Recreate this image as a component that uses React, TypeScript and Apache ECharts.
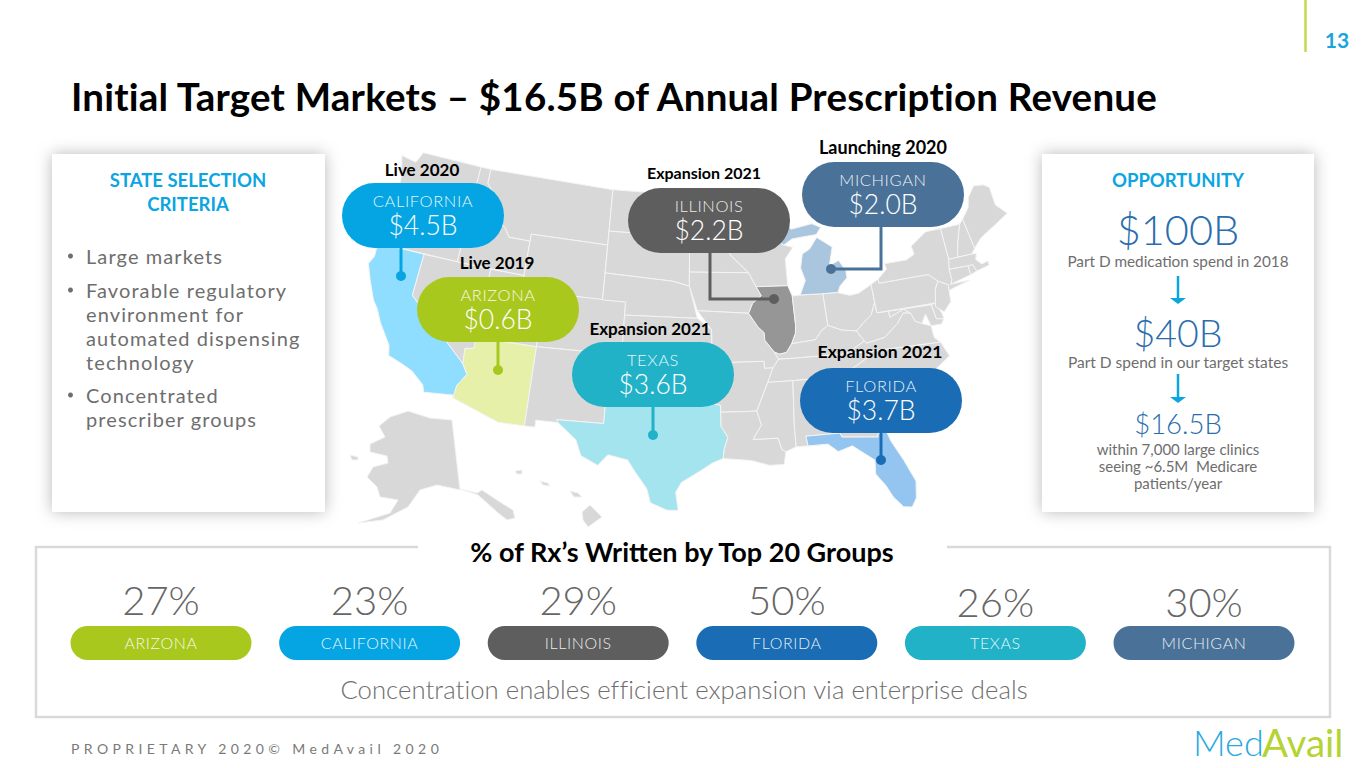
import React, { useEffect, useRef } from "react";
import * as echarts from "echarts";

// ---------- data ----------
const rowStates = ["ARIZONA", "CALIFORNIA", "ILLINOIS", "FLORIDA", "TEXAS", "MICHIGAN"];
const rowShare = [27, 23, 29, 50, 26, 30];
const calloutStates = ["CALIFORNIA", "ARIZONA", "ILLINOIS", "MICHIGAN", "TEXAS", "FLORIDA"];
const calloutRevenue = [4.5, 0.6, 2.2, 2.0, 3.6, 3.7];
const calloutStage = ["Live 2020", "Live 2019", "Expansion 2021", "Launching 2020", "Expansion 2021", "Expansion 2021"];
const highlightStates = ["California", "Arizona", "Illinois", "Michigan", "Texas", "Florida"];
const funnelValues = ["$100B", "$40B", "$16.5B"];
const funnelNotes = ["Part D medication spend in 2018", "Part D spend in our target states"];
const clinicNotes = ["within 7,000 large clinics", "seeing ~6.5M  Medicare", "patients/year"];
const criteria = [["Large markets"], ["Favorable regulatory", "environment for", "automated dispensing", "technology"], ["Concentrated", "prescriber groups"]];

// ---------- state outlines, west longitude,latitude ----------
const outlines: Record<string, string[]> = {
  Washington: ["124.7,48.4 123.2,48.2 122.8,49 117,49 117,46 119,45.9 121.2,45.6 122.8,45.7 123.5,46.2 124,46.3 124.1,47"],
  Oregon: ["124,46.3 123.5,46.2 122.8,45.7 121.2,45.6 119,45.9 117,46 116.9,45 117,44.2 117,42 124.2,42 124.5,43 124,44.5"],
  California: ["124.2,42 120,42 120,39 114.6,35 114.1,34.3 114.7,33.4 114.7,32.7 117.1,32.5 117.3,33 118.4,33.8 119.2,34.1 120.5,34.5 120.7,35.2 121.9,36.6 122.5,37.5 123,38 123.8,39.3 124.4,40.4 124.1,41"],
  Nevada: ["120,42 114,42 114,36.2 114.7,36.1 114.6,35 120,39"],
  Idaho: ["117,49 116,49 116,48 114.5,46.6 114.3,45.5 113.5,45.1 113,44.5 111.05,44.5 111.05,42 117,42 117,44.2 116.9,45 117,46"],
  Montana: ["116,49 104,49 104,45 111.05,45 111.05,44.5 113,44.5 113.5,45.1 114.3,45.5 114.5,46.6 116,48"],
  Wyoming: ["111.05,45 104,45 104,41 111.05,41"],
  Utah: ["114,42 111.05,42 111.05,41 109,41 109,37 114,37"],
  Arizona: ["114,37 109,37 109,31.3 111,31.3 114.8,32.5 114.7,33.4 114.1,34.3 114.6,35 114.7,36.1 114,36.2"],
  Colorado: ["109,41 102,41 102,37 109,37"],
  "New Mexico": ["109,37 103,37 103,32 106.6,32 106.5,31.8 108.2,31.8 108.2,31.3 109,31.3"],
  "North Dakota": ["104,49 97.2,49 96.6,46 104,46"],
  "South Dakota": ["104,46 96.6,46 96.5,45.3 96.5,43.5 96.5,42.5 98,42.8 104,43"],
  Nebraska: ["104,43 98,42.8 96.5,42.5 95.8,40 102,40 102,41 104,41"],
  Kansas: ["102,40 95.8,40 94.6,39.1 94.6,37 102,37"],
  Oklahoma: ["103,37 94.6,37 94.4,35.4 94.5,33.6 96.5,33.8 98,34 100,34.5 100,36.5 103,36.5"],
  Texas: ["103,36.5 100,36.5 100,34.5 98,34 96.5,33.8 94.5,33.6 94,33.5 94,33 94,32 93.5,31.2 93.8,30.4 93.9,29.7 94.7,29.4 95.5,28.9 97,28 97.4,27.3 97.2,26 98,26 99.2,26.5 99.5,27.5 100.5,28.8 101,29.5 102.5,29.8 103.2,29 104.5,29.6 105,30.7 106.5,31.8 106.6,32 103,32"],
  Minnesota: ["97.2,49 95.2,49 95.2,49.4 94.7,48.8 92.5,48.5 89.5,48 92,46.7 92.3,46.1 92.8,45.5 92.8,44.8 91.2,43.5 96.5,43.5 96.5,45.3 96.6,46"],
  Iowa: ["96.5,43.5 91.2,43.5 90.6,42.5 90.2,41.8 91,41.2 91.4,40.4 95.8,40.6 96.5,42.5"],
  Missouri: ["95.8,40.6 91.4,40.4 90.7,39.3 90.2,38.8 90.2,38.2 89.5,37.2 89.2,36.6 89.7,36 90.4,36 90.4,36.5 94.6,36.5 94.6,39.1"],
  Arkansas: ["94.6,36.5 90.4,36.5 90.4,36 89.7,36 90.2,35 91.2,33 94,33 94,33.5 94.5,33.6 94.4,35.4"],
  Louisiana: ["94,33 91.2,33 90.9,32 91.6,31 89.7,31 89.5,30.2 89.2,30 89.4,29.1 90.5,29.1 91.8,29.5 93.9,29.7 93.8,30.4 93.5,31.2 94,32"],
  Wisconsin: ["92,46.7 90.5,46.6 89,46 87.8,45.4 87,45.2 87.8,44.4 87.8,42.5 90.6,42.5 91.2,43.5 92.8,44.8 92.8,45.5 92.3,46.1"],
  Illinois: ["90.6,42.5 87.8,42.5 87.5,41.7 87.5,39.3 87.6,38.6 88,37.8 88.5,37.1 89.1,37 89.5,37.2 90.2,38.2 90.2,38.8 90.7,39.3 91.4,40.4 91,41.2 90.2,41.8"],
  Indiana: ["87.5,41.7 86.8,41.76 84.8,41.76 84.8,39.1 85.4,38.7 86,38 87,37.9 88,37.8 87.6,38.6 87.5,39.3"],
  Michigan: [
    "86.8,41.76 84.8,41.76 83.5,41.73 83.2,42.2 82.5,42.7 82.5,43.2 83,44 83.9,43.7 83.4,45 84.7,45.8 85.5,45 86.2,44.7 86.5,43.7 86.2,42.8",
    "90.5,46.6 89,46 87.8,45.4 87,45.8 86,45.9 84.7,46 84.2,46.5 85,46.8 87,46.5 88,47.4 88.5,47",
  ],
  Ohio: ["84.8,41.76 83.5,41.73 82.5,41.4 81.7,41.5 80.5,42 80.5,40.6 81,39.6 81.8,39 82.5,38.4 83.7,38.6 84.8,39.1"],
  Kentucky: ["89.2,36.6 89.5,37.2 89.1,37 88.5,37.1 88,37.8 87,37.9 86,38 85.4,38.7 84.8,39.1 83.7,38.6 82.5,38.4 82,37.5 83.7,36.6 88,36.6"],
  Tennessee: ["90.2,35 89.7,36 89.2,36.6 88,36.6 83.7,36.6 81.7,36.6 82,36.1 84.3,35 85.6,35 88.2,35"],
  Mississippi: ["91.2,33 90.2,35 88.2,35 88.4,31.9 88.4,30.3 89.2,30 89.5,30.2 89.7,31 91.6,31 90.9,32"],
  Alabama: ["88.2,35 85.6,35 85.2,32.9 85,31 87.6,31 87.5,30.3 88.4,30.3 88.4,31.9"],
  Georgia: ["85.6,35 84.3,35 83.1,35 83,34.6 81,32.2 81.1,31.7 81.5,30.7 82.2,30.6 82.2,30.4 84.9,30.7 85,31 85.2,32.9"],
  Florida: ["87.6,31 85,31 84.9,30.7 82.2,30.4 82.2,30.6 81.5,30.7 81.3,30 80.6,28.5 80,26.9 80.2,25.7 80.6,25.1 81.2,25.2 81.8,26 82.2,26.9 82.8,27.8 82.7,28.8 83.7,29.6 84.2,30 85.3,29.7 86,30.3 87.5,30.3"],
  "South Carolina": ["83.1,35 82,35.2 81,35.1 80.8,34.8 79.7,34.8 78.6,33.9 79.2,33.2 80.5,32.4 81,32.2 83,34.6"],
  "North Carolina": ["84.3,35 82,36.1 81.7,36.6 75.9,36.55 75.5,35.3 76.5,34.7 77.9,33.9 78.6,33.9 79.7,34.8 80.8,34.8 81,35.1 82,35.2 83.1,35"],
  Virginia: ["83.7,36.6 81.7,36.6 75.9,36.55 76.3,37 76.3,38 77,38.3 77.5,38.6 77.7,39.3 78.3,39.4 79,38.6 80.3,37.6 81.9,37.3 82,37.5"],
  "West Virginia": ["82.5,38.4 82,37.5 81.9,37.3 80.3,37.6 79,38.6 78.3,39.4 77.7,39.3 78.2,39.7 79.5,39.2 79.5,39.7 80.5,39.7 80.5,40.6 81,39.6 81.8,39"],
  Pennsylvania: ["80.5,42 79.8,42.3 79.8,42 75.4,42 74.7,41.4 75.1,40.9 75.4,39.8 80.5,39.7"],
  Maryland: ["79.5,39.7 75.8,39.7 75.7,38.5 75.1,38.4 75.4,38 76.3,38 76.5,39 77,38.3 77.5,38.6 77.7,39.3 78.2,39.7 79.5,39.2"],
  Delaware: ["75.8,39.7 75.4,39.8 75.1,38.8 75.1,38.4 75.7,38.5"],
  "New Jersey": ["75.4,39.8 75.1,40.9 74.7,41.4 73.9,41 74,40.4 74.1,39.7 74.9,38.95 75.5,39.5"],
  "New York": ["79.8,42.3 78.9,42.9 79,43.3 77,43.3 76.2,43.6 76.3,44.2 74.7,45 73.3,45 73.3,44 73.3,42.75 73.5,42.05 73.5,41.3 73.7,41 72,41 74,40.6 73.9,41 74.7,41.4 75.4,42 79.8,42"],
  Vermont: ["73.3,45 71.5,45 72.1,43.8 72.5,42.75 73.3,42.75 73.3,44"],
  "New Hampshire": ["71.5,45 71.1,45.3 70.8,43.1 71.2,42.75 72.5,42.75 72.1,43.8"],
  Maine: ["71.1,45.3 70.3,46 70,46.7 69.2,47.4 68.3,47.3 67.8,47 67.8,45.7 67,44.9 68.5,44.3 70,43.7 70.8,43.1"],
  Massachusetts: ["73.5,42.05 73.3,42.75 71.2,42.75 70.8,42.7 71,42.3 70.6,41.9 70,42 70,41.7 71.2,41.5 71.4,42 71.8,42"],
  Connecticut: ["73.5,42.05 71.8,42 71.8,41.35 73.7,41 73.5,41.3"],
  "Rhode Island": ["71.8,42 71.4,42 71.2,41.5 71.8,41.35"],
};
// insets are traced in page pixels
const insets: Record<string, string[]> = {
  Alaska: [
    "408,411 390,417 379,426 385,437 370,444 370,452 387,456 388,463 373,467 367,477 377,487 380,497 398,500 390,513 358,523 383,520 408,507 420,490 437,485 460,490 452,420 430,418",
    "460,489 477,493 482,490 497,500 513,510 515,518 507,520 497,512 487,503 478,495",
    "350,455 358,457 358,460 352,460",
  ],
  Hawaii: [
    "582,512 590,505 602,517 588,527 583,520",
    "570,491 578,493 582,497 574,497",
    "540,481 548,483 550,486 543,485",
    "515,471 522,470 522,474 517,474",
  ],
};

const parseRing = (s: string, inset: boolean) => {
  const ring = s.split(" ").map((pair) => {
    const [a, b] = pair.split(",").map(Number);
    return inset ? [a + 10000, b] : [-a, b];
  });
  ring.push(ring[0]);
  return ring;
};
const feature = (name: string, rings: string[], inset: boolean) => ({
  type: "Feature",
  properties: { name },
  geometry: { type: "MultiPolygon", coordinates: rings.map((r) => [parseRing(r, inset)]) },
});
const usa = {
  type: "FeatureCollection",
  features: [
    ...Object.keys(outlines).map((k) => feature(k, outlines[k], false)),
    ...Object.keys(insets).map((k) => feature(k, insets[k], true)),
  ],
};

// Albers conic, fitted to the page; lon >= 5000 means page pixels + 10000
const rad = Math.PI / 180;
const n = (Math.sin(29.5 * rad) + Math.sin(45.5 * rad)) / 2;
const C = Math.cos(29.5 * rad) ** 2 + 2 * n * Math.sin(29.5 * rad);
const rho = (lat: number) => Math.sqrt(C - 2 * n * Math.sin(lat * rad)) / n;
const rho0 = rho(37.5);
const clamp01 = (v: number) => Math.max(0, Math.min(1, v));
const project = (p: number[]) => {
  if (p[0] >= 5000) return [p[0] - 10000, p[1]];
  const t = n * (p[0] + 96) * rad;
  const r = rho(p[1]);
  const x = 695 + 886 * r * Math.sin(t);
  const y = 349 - 802 * (rho0 - r * Math.cos(t));
  // the reference's north-east sits a little lower than a pure conic
  const sag = clamp01((360 - y) / 80) * clamp01((x - 450) / 370) * 12;
  return [x, y + sag];
};
const unproject = (p: number[]) => [p[0] + 10000, p[1]];

// ---------- look ----------
const FONT = "Lato";
const BLUE = "#0BA5E2";
const GREY = "#6E6E6E";
const stateColor: Record<string, string> = {
  ARIZONA: "#A9C81E", CALIFORNIA: "#05A5E3", ILLINOIS: "#5E5E5E",
  FLORIDA: "#1A6DB4", TEXAS: "#22B2C8", MICHIGAN: "#4A7299",
};
const tint = ["#8FDEFF", "#E6F0A9", "#969696", "#AAC6DF", "#A3E4EF", "#94C5F0"];
const box = [
  { x: 342, y: 183, dots: [[401, 247], [401, 276]], stageX: 422, stageY: 170, stageSize: 17 },
  { x: 417, y: 277, dots: [[498, 342], [498, 370]], stageX: 497, stageY: 263, stageSize: 17 },
  { x: 628, y: 188, dots: [[710, 253], [710, 299], [774, 299]], stageX: 704, stageY: 173, stageSize: 16 },
  { x: 802, y: 162, dots: [[881, 227], [881, 269], [831, 269]], stageX: 883, stageY: 148, stageSize: 18 },
  { x: 572, y: 342, dots: [[653, 407], [653, 435]], stageX: 650, stageY: 329, stageSize: 17 },
  { x: 800, y: 368, dots: [[881, 432], [881, 460]], stageX: 880, stageY: 352, stageSize: 17.5 },
];
// letter-spacing applied to the drawn svg text
const spacing: Record<string, string> = {
  "PROPRIETARY 2020© MedAvail 2020": "4.4px",
  "Initial Target Markets – $16.5B of Annual Prescription Revenue": "0.21px",
  "Concentration enables efficient expansion via enterprise deals": "0.05px",
  CALIFORNIA: "0.6px", ARIZONA: "0.6px", ILLINOIS: "0.6px", MICHIGAN: "0.6px", TEXAS: "0.6px", FLORIDA: "0.6px",
};
criteria.forEach((lines) => lines.forEach((t) => { spacing[t] = "1.1px"; }));

const T = (text: string, x: number, y: number, size: number, fill: string, weight: any = 400, align = "center") => ({
  type: "text", z: 20, silent: true,
  style: { text, x, y: y - 1, fill, textAlign: align, textVerticalAlign: "middle", fontFamily: FONT, fontSize: size, fontWeight: weight },
});
const card = (x: number, w: number) => ({
  type: "rect", z: 5, shape: { x, y: 154, width: w, height: 358 },
  style: { fill: "#fff", shadowBlur: 16, shadowColor: "rgba(0,0,0,0.28)" },
});
const arrow = (x: number, y0: number, y1: number) => [
  { type: "line", z: 20, shape: { x1: x, y1: y0, x2: x, y2: y1 - 3 }, style: { stroke: BLUE, lineWidth: 2.5 } },
  { type: "polygon", z: 20, shape: { points: [[x - 8, y1 - 6], [x + 8, y1 - 6], [x, y1]] }, style: { fill: BLUE } },
];

const graphics = () => {
  const els: any[] = [
    { type: "line", z: 20, shape: { x1: 1305.5, y1: 0, x2: 1305.5, y2: 52 }, style: { stroke: "#C6D84E", lineWidth: 2.5 } },
    T("13", 1337, 40, 21, "#1BA5DC", 700),
    T("Initial Target Markets – $16.5B of Annual Prescription Revenue", 71, 97, 38.5, "#000", 700, "left"),
    card(52, 273),
    card(1042, 272),
    T("STATE SELECTION", 188, 181, 18.5, BLUE, 700),
    T("CRITERIA", 188, 205, 18.5, BLUE, 700),
    T("OPPORTUNITY", 1178, 181, 18.5, BLUE, 700),
    T(funnelValues[0], 1178, 230, 41.5, "#2A6DAE", 300),
    T(funnelNotes[0], 1178, 262, 15.3, GREY),
    ...arrow(1178, 276, 304),
    T(funnelValues[1], 1178, 333, 37.5, "#2A6DAE", 300),
    T(funnelNotes[1], 1178, 363, 15.5, GREY),
    ...arrow(1178, 374, 403),
    T(funnelValues[2], 1178, 424, 27.5, "#2A6DAE", 300),
    ...clinicNotes.map((t, i) => T(t, 1178, 450 + i * 17, 15, GREY)),
    {
      type: "polyline", z: 20,
      shape: { points: [[418, 547], [36, 547], [36, 717], [1330, 717], [1330, 547], [947, 547]] },
      style: { stroke: "#D9D9D9", lineWidth: 2.5, fill: "none" },
    },
    T("% of Rx’s Written by Top 20 Groups", 682, 552, 27, "#000", 700),
    T("Concentration enables efficient expansion via enterprise deals", 684, 690, 25.7, GREY, 300),
    T("PROPRIETARY 2020© MedAvail 2020", 71, 749, 14, "#7A7A7A", 400, "left"),
    T("Med", 1193, 743, 36, "#2AA9E0", 300, "left"),
    T("Avail", 1262, 743, 38.5, "#B5D334", 400, "left"),
  ];
  // bullets
  const ys = [257, 291, 396];
  criteria.forEach((lines, i) => {
    els.push({ type: "circle", z: 20, shape: { cx: 70.5, cy: ys[i] - 1, r: 2.5 }, style: { fill: GREY } });
    lines.forEach((t, j) => els.push(T(t, 86, ys[i] + j * 24, 20, GREY, 400, "left")));
  });
  // callouts
  calloutStates.forEach((name, i) => {
    const b = box[i];
    const c = stateColor[name];
    const cx = b.x + 81;
    els.push({ type: "polyline", z: 18, shape: { points: b.dots }, style: { stroke: c, lineWidth: 3, fill: "none" } });
    const end = b.dots[b.dots.length - 1];
    els.push({ type: "circle", z: 19, shape: { cx: end[0], cy: end[1], r: 5 }, style: { fill: c } });
    els.push({ type: "rect", z: 19, shape: { x: b.x, y: b.y, width: 162, height: 65, r: 32.5 }, style: { fill: c } });
    els.push(T(name, cx, b.y + 18.5, 16.5, "rgba(255,255,255,0.9)", 300));
    els.push(T(`$${calloutRevenue[i].toFixed(1)}B`, cx, b.y + 42.5, 26.5, "#fff", 300));
    els.push(T(calloutStage[i], b.stageX, b.stageY, b.stageSize, "#000", 700));
  });
  return els;
};

export default function App() {
  const ref = useRef<HTMLDivElement>(null);
  useEffect(() => {
    document.body.style.margin = "0";
    echarts.registerMap("usa", usa as any);
    const chart = echarts.init(ref.current!, undefined, { renderer: "svg" });
    chart.setOption({
      animation: false,
      backgroundColor: "#fff",
      grid: { left: 56.7, width: 1251.6, top: 0, height: 768 },
      xAxis: { type: "category", data: rowStates, show: false },
      yAxis: { type: "value", min: 0, max: 1, show: false },
      graphic: { elements: graphics() },
      series: [
        {
          type: "map", map: "usa", silent: true, projection: { project, unproject },
          boundingCoords: [[10000, 0], [11365, 768]],
          left: 0, top: 0, width: 1365, height: 768, roam: false,
          label: { show: false },
          itemStyle: { areaColor: "#D8D8D8", borderColor: "#F4F4F4", borderWidth: 1 },
          data: highlightStates.map((name, i) => ({ name, value: calloutRevenue[i], itemStyle: { areaColor: tint[i] } })),
        },
        {
          type: "custom", silent: true, z: 30,
          data: rowShare.map((v, i) => [i, v]),
          encode: { x: 0 },
          renderItem: (params: any, api: any) => {
            const i = api.value(0);
            const x = api.coord([i, 0])[0];
            const name = rowStates[i];
            return {
              type: "group",
              children: [
                { type: "rect", shape: { x: x - 90.5, y: 626, width: 181, height: 34, r: 17 }, style: { fill: stateColor[name] } },
                { type: "text", style: { text: name, x, y: 642, fill: "rgba(255,255,255,0.9)", textAlign: "center", textVerticalAlign: "middle", fontFamily: FONT, fontSize: 16, fontWeight: 300 } },
                { type: "text", style: { text: `${api.value(1)}%`, x, y: i >= 4 ? 602 : 600, fill: "#666", textAlign: "center", textVerticalAlign: "middle", fontFamily: FONT, fontSize: 40, fontWeight: 300 } },
              ],
            };
          },
        },
      ],
    });
    const fix = () => {
      ref.current?.querySelectorAll("text").forEach((t: any) => {
        const s = spacing[t.textContent];
        if (s) t.style.letterSpacing = s;
      });
    };
    fix();
    chart.on("finished", fix);
    return () => chart.dispose();
  }, []);
  return <div ref={ref} style={{ position: "absolute", left: 0, top: 0, width: 1365, height: 768 }} />;
}
